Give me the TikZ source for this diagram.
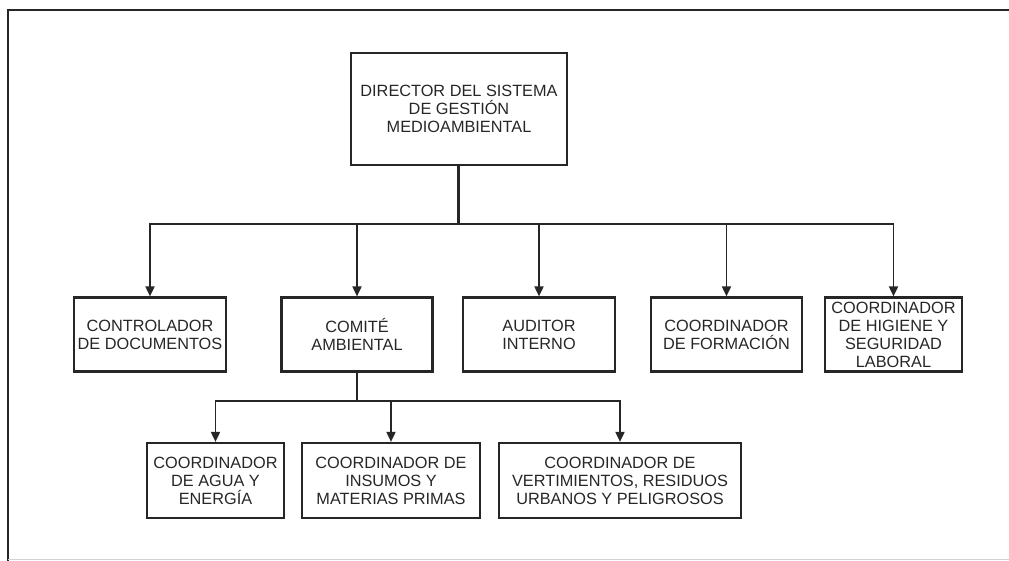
\documentclass[tikz,border=0pt]{standalone}
\usepackage{fontspec}
\setmainfont{Liberation Sans}
\usetikzlibrary{arrows.meta}

\definecolor{ink}{HTML}{262626}

\begin{document}
\begin{tikzpicture}[x=1pt,y=-1pt,
  orgbox/.style={draw=ink, line width=2.2pt, rectangle, inner sep=0pt,
    align=center, text=ink, font=\fontsize{16.3}{18}\selectfont},
  link/.style={draw=ink, line width=1.8pt},
  arr/.style={link, -{Triangle[length=10pt,width=9pt]}},
  stem/.style={draw=ink, line width=3pt}]

\useasboundingbox (0,0) rectangle (1009,561);

% page frame
\draw[ink, line width=1.8pt] (8,561) -- (8,10) -- (1009,10);
\draw[gray!35, line width=1pt] (8,559.5) -- (1009,559.5);

% top level
\node[orgbox, minimum width=216pt, minimum height=112pt] (dir) at (459,109)
  {DIRECTOR DEL SISTEMA\\DE GESTIÓN\\MEDIOAMBIENTAL};

% second level
\node[orgbox, minimum width=152pt, minimum height=74pt] (ctrl) at (150,334.5)
  {CONTROLADOR\\DE DOCUMENTOS};
\node[orgbox, minimum width=151pt, minimum height=74pt] (com) at (357,334.5)
  {COMITÉ\\AMBIENTAL};
\node[orgbox, minimum width=152pt, minimum height=74pt] (aud) at (539,334.5)
  {AUDITOR\\INTERNO};
\node[orgbox, minimum width=151pt, minimum height=74pt] (form) at (726.5,334.5)
  {COORDINADOR\\DE FORMACIÓN};
\node[orgbox, minimum width=137pt, minimum height=74pt] (hig) at (893.5,334.5)
  {COORDINADOR\\DE HIGIENE Y\\SEGURIDAD\\LABORAL};

% third level
\node[orgbox, minimum width=137pt, minimum height=75pt] (agua) at (215.5,480.5)
  {COORDINADOR\\DE AGUA Y\\ENERGÍA};
\node[orgbox, minimum width=178pt, minimum height=75pt] (ins) at (391,480.5)
  {COORDINADOR DE\\INSUMOS Y\\MATERIAS PRIMAS};
\node[orgbox, minimum width=242pt, minimum height=75pt] (vert) at (620,480.5)
  {COORDINADOR DE\\VERTIMIENTOS, RESIDUOS\\URBANOS Y PELIGROSOS};

% connectors from the director
\coordinate (bus) at (458,224);
\draw[stem] (dir.south -| bus) -- (bus);
\foreach \n in {ctrl,com,aud,form,hig}
  \draw[arr] (bus) -| (\n.north);

% connectors from the committee
\coordinate (bus2) at (357,401);
\draw[link] (com.south) -- (bus2);
\foreach \n in {agua,ins,vert}
  \draw[arr] (bus2) -| (\n.north);

\end{tikzpicture}
\end{document}
